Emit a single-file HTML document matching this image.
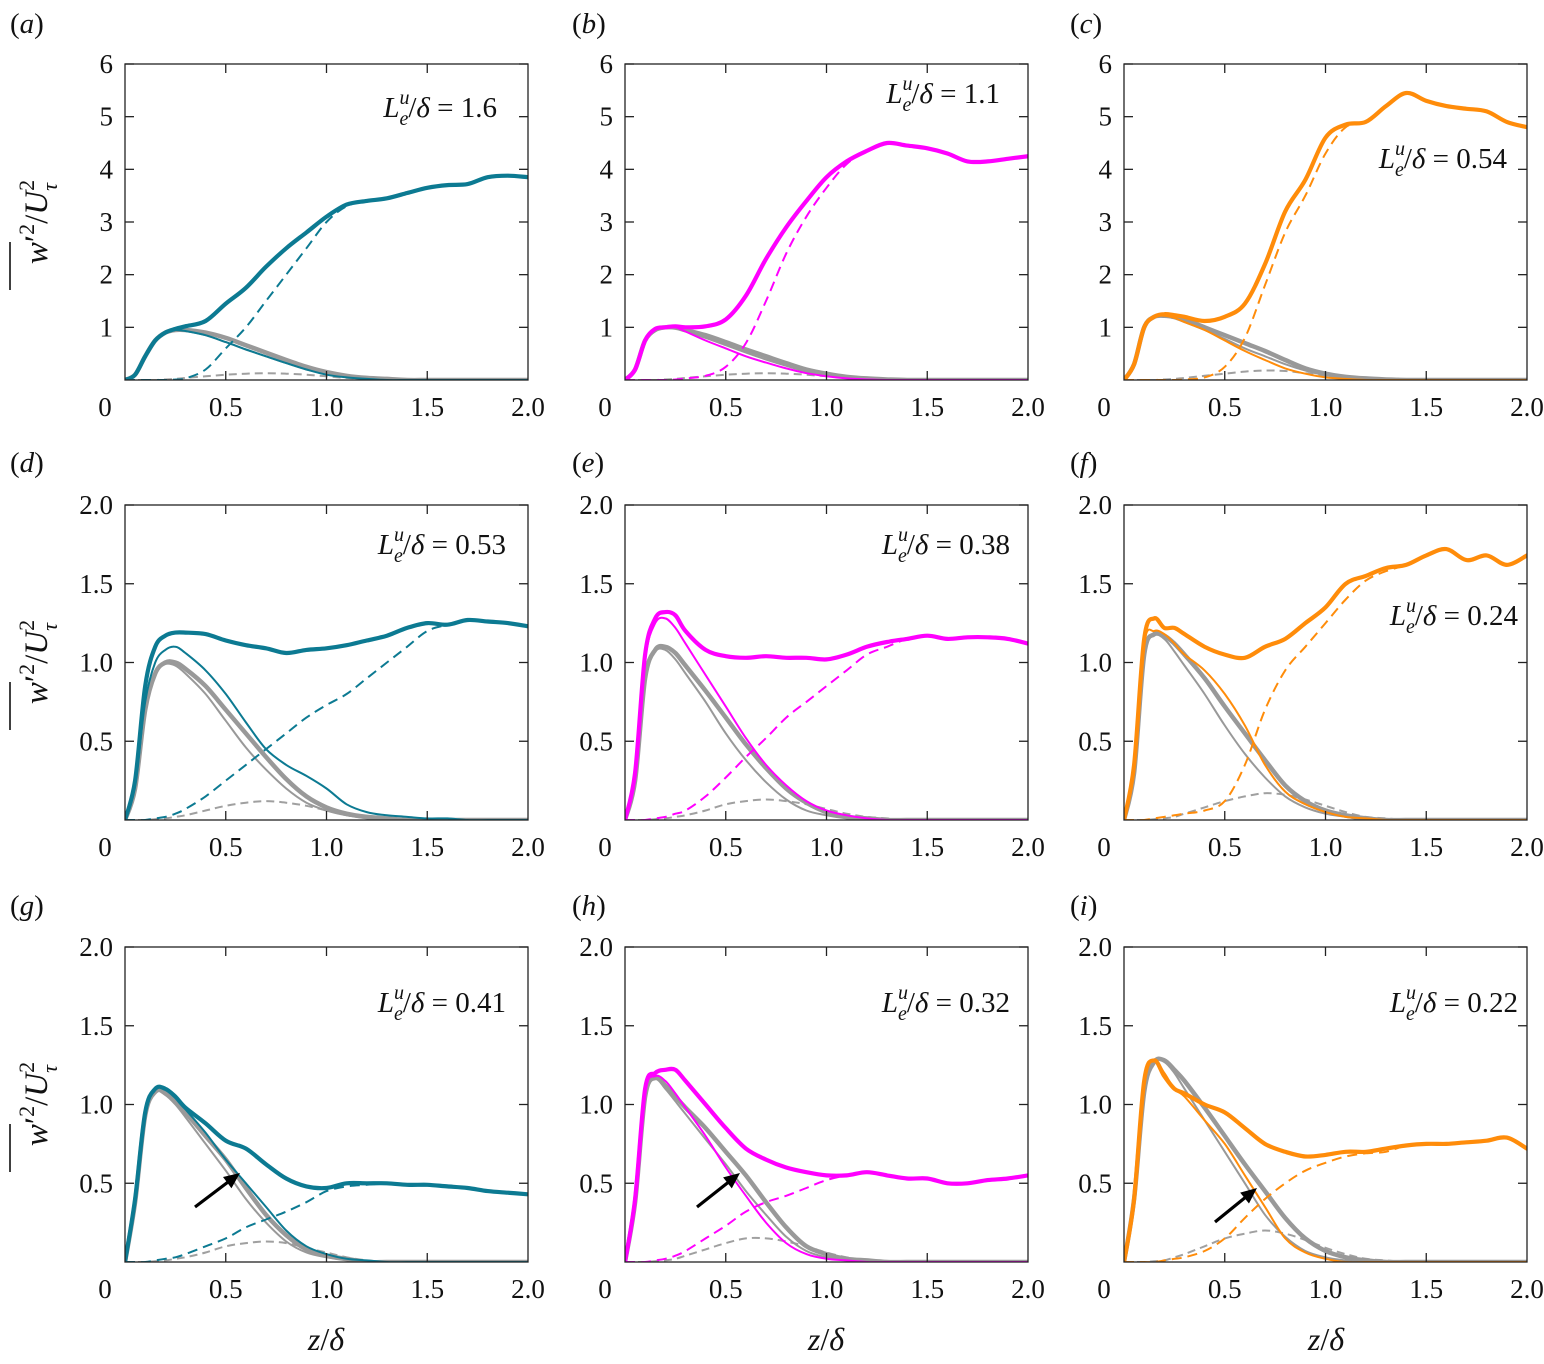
<!DOCTYPE html>
<html><head><meta charset="utf-8"><style>
html,body{margin:0;padding:0;background:#fff}
svg{display:block}
svg text{font-family:"Liberation Serif","DejaVu Serif",serif}
</style></head><body>
<svg id="fig" width="1544" height="1364" viewBox="0 0 1544 1364" xmlns="http://www.w3.org/2000/svg" font-family="Liberation Serif, DejaVu Serif, serif"></svg>
<script>
const zGrid=[0,.05,.1,.15,.2,.25,.3,.4,.5,.6,.7,.8,.9,1.0,1.1,1.2,1.3,1.4,1.5,1.6,1.7,1.8,1.9,2.0];
const xTicks=[0.5,1.0,1.5];
const xTickLabels=["0","0.5","1.0","1.5","2.0"];
const yTicksTop=[1,2,3,4,5,6];
const yTicksLow=[0.5,1.0,1.5,2.0];
const yLabelsLow=["0.5","1.0","1.5","2.0"];
const panelLetters=["a","b","c","d","e","f","g","h","i"];
const ratioLabels=["1.6","1.1","0.54","0.53","0.38","0.24","0.41","0.32","0.22"];

const aTot=[0,.1,.45,.75,.9,.97,1.02,1.12,1.45,1.75,2.15,2.5,2.8,3.1,3.33,3.4,3.45,3.55,3.65,3.7,3.72,3.85,3.88,3.85];
const aThin=[0,.1,.45,.75,.9,.95,.93,.85,.72,.58,.45,.32,.2,.1,.05,.02,0,0,0,0,0,0,0,0];
const aDash=[0,0,0,0,0,.01,.03,.2,.6,1.0,1.5,2.0,2.5,3.0,3.3,3.4,3.45,3.55,3.65,3.7,3.72,3.85,3.88,3.85];
const aGT=[0,.1,.45,.75,.9,.95,.95,.9,.8,.66,.52,.38,.25,.15,.08,.04,.02,0,0,0,0,0,0,0];
const aGt=[0,.1,.45,.75,.9,.94,.93,.85,.72,.58,.45,.32,.2,.12,.06,.03,.01,0,0,0,0,0,0,0];
const aGD=[0,0,0,0,.01,.02,.04,.07,.1,.12,.13,.12,.1,.07,.04,.02,.01,0,0,0,0,0,0,0];

const bTot=[0,.2,.75,.97,1.0,1.02,1.0,1.02,1.15,1.6,2.3,2.9,3.4,3.85,4.15,4.35,4.5,4.45,4.4,4.3,4.15,4.15,4.2,4.25];
const bThin=[0,.2,.75,.95,1.0,1.0,.92,.75,.6,.45,.33,.22,.13,.07,.03,.01,0,0,0,0,0,0,0,0];
const bDash=[0,0,0,0,0,.01,.03,.08,.25,.7,1.5,2.4,3.1,3.65,4.1,4.35,4.5,4.45,4.4,4.3,4.15,4.15,4.2,4.25];
const bGT=[0,.2,.75,.95,1.0,1.0,.95,.85,.72,.58,.45,.32,.2,.12,.06,.03,.01,0,0,0,0,0,0,0];
const bGt=[0,.2,.75,.94,.98,.97,.92,.8,.66,.52,.39,.27,.16,.09,.04,.02,0,0,0,0,0,0,0,0];
const bGD=[0,0,0,0,.01,.02,.04,.07,.1,.12,.13,.12,.1,.07,.04,.02,.01,0,0,0,0,0,0,0];

const cTot=[0,.3,1.0,1.2,1.25,1.23,1.2,1.12,1.2,1.45,2.2,3.2,3.8,4.6,4.85,4.9,5.2,5.45,5.3,5.2,5.15,5.1,4.9,4.8];
const cThin=[0,.3,1.0,1.2,1.22,1.18,1.1,.95,.75,.55,.38,.22,.12,.05,.02,0,0,0,0,0,0,0,0,0];
const cDash=[0,0,0,0,0,0,.01,.05,.25,.8,1.8,2.8,3.5,4.3,4.8,4.9,5.2,5.45,5.3,5.2,5.15,5.1,4.9,4.8];
const cGT=[0,.3,1.0,1.2,1.22,1.2,1.15,1.0,.85,.7,.55,.38,.22,.12,.06,.03,.01,0,0,0,0,0,0,0];
const cGt=[0,.3,1.0,1.19,1.2,1.17,1.1,.95,.78,.6,.45,.3,.18,.09,.04,.02,0,0,0,0,0,0,0,0];
const cGD=[0,0,0,0,.01,.02,.04,.08,.12,.16,.18,.17,.13,.08,.04,.02,.01,0,0,0,0,0,0,0];

const dTot=[0,.25,.85,1.1,1.17,1.19,1.19,1.18,1.14,1.11,1.09,1.06,1.08,1.09,1.11,1.14,1.17,1.22,1.25,1.24,1.27,1.26,1.25,1.23];
const dThin=[0,.22,.75,1.0,1.08,1.1,1.06,.95,.8,.62,.45,.35,.28,.2,.1,.05,.03,.02,.01,.01,0,0,0,0];
const dDash=[0,0,0,.01,.02,.04,.07,.15,.25,.35,.45,.55,.65,.73,.8,.9,1.0,1.1,1.2,1.24,1.27,1.26,1.25,1.23];
const dGT=[0,.2,.7,.93,1.0,1.0,.96,.85,.7,.55,.4,.26,.15,.08,.04,.02,.01,0,0,0,0,0,0,0];
const dGt=[0,.2,.7,.93,.99,.98,.93,.8,.63,.46,.32,.2,.11,.06,.03,.01,0,0,0,0,0,0,0,0];
const dGD=[0,0,0,.005,.01,.02,.03,.06,.09,.11,.12,.11,.09,.06,.03,.015,.005,0,0,0,0,0,0,0];

const eTot=[0,.3,1.05,1.28,1.32,1.3,1.2,1.08,1.04,1.03,1.04,1.03,1.03,1.02,1.05,1.1,1.13,1.15,1.17,1.15,1.16,1.16,1.15,1.12];
const eThin=[0,.3,1.02,1.25,1.28,1.22,1.12,.92,.72,.52,.35,.22,.12,.06,.03,.01,0,0,0,0,0,0,0,0];
const eDash=[0,0,0,.01,.02,.04,.06,.15,.27,.4,.52,.65,.75,.85,.95,1.05,1.1,1.15,1.17,1.15,1.16,1.16,1.15,1.12];
const eGT=[0,.25,.9,1.08,1.1,1.06,.98,.82,.65,.48,.33,.2,.11,.05,.02,.01,0,0,0,0,0,0,0,0];
const eGt=[0,.25,.9,1.07,1.08,1.02,.93,.75,.55,.38,.24,.13,.06,.03,.01,0,0,0,0,0,0,0,0,0];
const eGD=[0,0,0,.005,.01,.02,.03,.06,.1,.12,.13,.12,.1,.07,.04,.02,.01,0,0,0,0,0,0,0];

const fTot=[0,.35,1.15,1.28,1.22,1.22,1.18,1.1,1.05,1.03,1.1,1.15,1.25,1.35,1.5,1.55,1.6,1.62,1.68,1.72,1.65,1.68,1.62,1.68];
const fThin=[0,.35,1.12,1.2,1.18,1.12,1.05,.95,.8,.6,.35,.18,.1,.05,.02,.01,0,0,0,0,0,0,0,0];
const fDash=[0,0,0,.01,.02,.03,.04,.06,.12,.35,.7,.95,1.1,1.25,1.4,1.52,1.58,1.62,1.68,1.72,1.65,1.68,1.62,1.68];
const fGT=[0,.3,1.05,1.18,1.17,1.12,1.05,.9,.72,.55,.38,.22,.12,.06,.03,.01,0,0,0,0,0,0,0,0];
const fGt=[0,.3,1.05,1.17,1.15,1.07,.98,.8,.6,.42,.27,.15,.08,.04,.02,0,0,0,0,0,0,0,0,0];
const fGD=[0,0,0,.005,.01,.02,.04,.08,.12,.15,.17,.16,.13,.09,.05,.02,.01,0,0,0,0,0,0,0];

const gTot=[0,.4,.95,1.1,1.1,1.05,.98,.88,.77,.72,.62,.53,.48,.47,.5,.5,.5,.49,.49,.48,.47,.45,.44,.43];
const gThin=[0,.4,.95,1.1,1.1,1.05,.97,.82,.65,.5,.35,.2,.1,.05,.02,.01,0,0,0,0,0,0,0,0];
const gDash=[0,0,0,.01,.02,.03,.05,.1,.15,.22,.27,.32,.38,.45,.48,.49,.5,.49,.49,.48,.47,.45,.44,.43];
const gGT=[0,.38,.93,1.08,1.08,1.02,.95,.8,.65,.47,.3,.17,.08,.04,.02,0,0,0,0,0,0,0,0,0];
const gGt=[0,.38,.93,1.08,1.06,1.0,.92,.75,.58,.4,.25,.13,.06,.03,.01,0,0,0,0,0,0,0,0,0];
const gGD=[0,0,0,.005,.01,.02,.03,.06,.1,.12,.13,.12,.09,.06,.03,.01,0,0,0,0,0,0,0,0];

const hTot=[0,.4,1.1,1.2,1.22,1.22,1.15,1.0,.85,.72,.65,.6,.57,.55,.55,.57,.55,.53,.53,.5,.5,.52,.53,.55];
const hThin=[0,.4,1.08,1.18,1.15,1.07,.98,.8,.6,.42,.25,.12,.05,.02,.01,0,0,0,0,0,0,0,0,0];
const hDash=[0,0,0,.01,.02,.04,.07,.15,.23,.32,.38,.42,.47,.52,.55,.57,.55,.53,.53,.5,.5,.52,.53,.55];
const hGT=[0,.38,1.05,1.17,1.12,1.05,.98,.85,.7,.55,.38,.22,.1,.05,.02,.01,0,0,0,0,0,0,0,0];
const hGt=[0,.38,1.05,1.16,1.1,1.02,.94,.78,.62,.45,.3,.16,.07,.03,.01,0,0,0,0,0,0,0,0,0];
const hGD=[0,0,0,.005,.01,.02,.04,.08,.12,.15,.15,.13,.1,.06,.03,.01,0,0,0,0,0,0,0,0];

const iTot=[0,.4,1.15,1.28,1.18,1.1,1.07,1.0,.95,.85,.75,.7,.67,.68,.7,.7,.72,.74,.75,.75,.76,.77,.79,.72];
const iThin=[0,.4,1.15,1.28,1.2,1.1,1.05,.9,.75,.55,.35,.15,.06,.02,0,0,0,0,0,0,0,0,0,0];
const iDash=[0,0,0,0,.01,.02,.03,.07,.15,.28,.4,.5,.58,.63,.67,.69,.7,.74,.75,.75,.76,.77,.79,.72];
const iGT=[0,.4,1.08,1.27,1.28,1.22,1.15,.98,.8,.62,.45,.28,.15,.07,.03,.01,0,0,0,0,0,0,0,0];
const iGt=[0,.4,1.08,1.27,1.27,1.2,1.1,.9,.7,.5,.3,.16,.07,.03,.01,0,0,0,0,0,0,0,0,0];
const iGD=[0,0,0,.005,.01,.03,.05,.1,.15,.18,.2,.18,.14,.09,.05,.02,.01,0,0,0,0,0,0,0];

const series=[
 [aTot,aThin,aDash,aGT,aGt,aGD],[bTot,bThin,bDash,bGT,bGt,bGD],[cTot,cThin,cDash,cGT,cGt,cGD],
 [dTot,dThin,dDash,dGT,dGt,dGD],[eTot,eThin,eDash,eGT,eGt,eGD],[fTot,fThin,fDash,fGT,fGt,fGD],
 [gTot,gThin,gDash,gGT,gGt,gGD],[hTot,hThin,hDash,hGT,hGt,hGD],[iTot,iThin,iDash,iGT,iGt,iGD]];

const NS="http://www.w3.org/2000/svg";
const svg=document.getElementById('fig');
const FONT="Liberation Serif, DejaVu Serif, serif";
function mk(tag,attrs,parent){const e=document.createElementNS(NS,tag);for(const k in attrs)e.setAttribute(k,attrs[k]);if(tag==='text')e.setAttribute('font-family',FONT);(parent||svg).appendChild(e);return e;}
const colors=["#0c7a92","#ff00ff","#ff8c0a"];
const colL=[125,625,1124], W=403;
const rowT=[64,505,947], rowB=[380,820,1262];
const letterX=[10,572,1070];
const letterY=[33,472,915];
const annPos=[[497,117],[1000,103],[1507,168],[506,554],[1010,554],[1518,625],[506,1012],[1010,1012],[1518,1012]];
const arrows=[null,null,null,null,null,null,[195,1207,240,1173],[697,1207,740,1173],[1215,1222,1257,1188]];

function smoothPath(pts){
  let d="M"+pts[0][0].toFixed(1)+","+pts[0][1].toFixed(1);
  for(let i=0;i<pts.length-1;i++){
    const p0=pts[Math.max(0,i-1)],p1=pts[i],p2=pts[i+1],p3=pts[Math.min(pts.length-1,i+2)];
    const c1=[p1[0]+(p2[0]-p0[0])/6,p1[1]+(p2[1]-p0[1])/6];
    const c2=[p2[0]-(p3[0]-p1[0])/6,p2[1]-(p3[1]-p1[1])/6];
    d+=" C"+c1[0].toFixed(1)+","+c1[1].toFixed(1)+" "+c2[0].toFixed(1)+","+c2[1].toFixed(1)+" "+p2[0].toFixed(1)+","+p2[1].toFixed(1);
  }
  return d;
}

for(let p=0;p<9;p++){
  const r=Math.floor(p/3),c=p%3;
  const L=colL[c],T=rowT[r],B=rowB[r],R=L+W;
  const ymax=r===0?6:2;
  const xs=v=>L+v/2*W, ys=v=>B-v/ymax*(B-T);
  const g=mk('g',{});
  
  
  const clipId='clip'+p;
  const cp=mk('clipPath',{id:clipId},g); mk('rect',{x:L,y:T-2,width:W,height:B-T+2},cp);
  const col=colors[c];
  const specs=[[5,'#a0a0a0',2,'8,5','gray-dashed-curve'],[4,'#999',2,null,'gray-thin-curve'],[3,'#999',4.5,null,'gray-thick-curve'],
    [2,col,2,'10,6','dashed-curve'],[1,col,2,null,'thin-curve'],[0,col,4.2,null,'total-curve']];
  const plot=mk('g',{'clip-path':'url(#'+clipId+')'},g);
  for(const s of specs){
    const arr=series[p][s[0]];
    const pts=zGrid.map((z,i)=>[xs(z),ys(arr[i])]);
    const a={d:smoothPath(pts),fill:'none',stroke:s[1],'stroke-width':s[2],'stroke-linejoin':'round','stroke-linecap':'round'};
    if(s[3]){a['stroke-dasharray']=s[3];a['stroke-linecap']='butt';}
    const path=mk('path',a,plot);
    
    
  }
  const ap=annPos[p];
  mk('rect',{x:ap[0]-165,y:ap[1]-32,width:171,height:44,fill:'#fff'},g);
  const t=mk('text',{x:ap[0],y:ap[1],'text-anchor':'end','font-size':29,fill:'#111'},g);
  
  
  t.innerHTML='<tspan font-style="italic">L</tspan><tspan font-style="italic" font-size="20" dy="-13">u</tspan><tspan font-style="italic" font-size="20" dx="-10" dy="21">e</tspan><tspan dy="-8">/</tspan><tspan font-style="italic">δ</tspan><tspan> = '+ratioLabels[p]+'</tspan>';
  const fr=mk('rect',{x:L,y:T,width:W,height:B-T,fill:'none',stroke:'#222','stroke-width':1.3},g);
  
  
  for(const v of xTicks){
    mk('line',{x1:xs(v),x2:xs(v),y1:B,y2:B-9,stroke:'#222','stroke-width':1.3},g);
    mk('line',{x1:xs(v),x2:xs(v),y1:T,y2:T+9,stroke:'#222','stroke-width':1.3},g);
  }
  [0,0.5,1.0,1.5,2.0].forEach((v,i)=>{
    const tx=mk('text',{x:i===0?L-20:xs(v),y:B+36,'text-anchor':'middle','font-size':27,fill:'#111'},g);
    
    
    tx.textContent=xTickLabels[i];
  });
  const yt=r===0?yTicksTop:yTicksLow;
  yt.forEach((v,i)=>{
    mk('line',{x1:L,x2:L+9,y1:ys(v),y2:ys(v),stroke:'#222','stroke-width':1.3},g);
    mk('line',{x1:R,x2:R-9,y1:ys(v),y2:ys(v),stroke:'#222','stroke-width':1.3},g);
    const ty=mk('text',{x:L-12,y:ys(v)+9,'text-anchor':'end','font-size':27,fill:'#111'},g);
    
    
    ty.textContent=r===0?String(v):yLabelsLow[i];
  });
  const pl=mk('text',{x:letterX[c],y:letterY[r],'font-size':29,fill:'#111'},g);
  
  
  pl.innerHTML='(<tspan font-style="italic">'+panelLetters[p]+'</tspan>)';
  if(arrows[p]){
    const [x1,y1,x2,y2]=arrows[p];
    const ang=Math.atan2(y2-y1,x2-x1);
    const al=mk('line',{x1:x1,y1:y1,x2:x2-10*Math.cos(ang),y2:y2-10*Math.sin(ang),stroke:'#000','stroke-width':3.2},g);
    
    
    const bx=x2-16*Math.cos(ang),by=y2-16*Math.sin(ang);
    const px=-Math.sin(ang)*7,py=Math.cos(ang)*7;
    const ah=mk('polygon',{points:x2+','+y2+' '+(bx+px)+','+(by+py)+' '+(bx-px)+','+(by-py),fill:'#000'},g);
    
    
  }
}
[222,662,1104].forEach(cy=>{
  const t=mk('text',{x:0,y:0,transform:'translate(47,'+cy+') rotate(-90)','text-anchor':'middle','font-size':33,fill:'#111'});
  
  
  t.innerHTML='<tspan font-style="italic">w</tspan><tspan>′</tspan><tspan font-size="22" dy="-13">2</tspan><tspan dy="13">/</tspan><tspan font-style="italic">U</tspan><tspan font-size="22" dy="-13">2</tspan><tspan font-size="22" font-style="italic" dx="-11" dy="23">τ</tspan>';
  const ol=mk('line',{x1:10,x2:10,y1:cy+20,y2:cy+68,stroke:'#111','stroke-width':1.6});
  
  
});
[326,826,1326].forEach(cx=>{
  const t=mk('text',{x:cx,y:1350,'text-anchor':'middle','font-size':32,fill:'#111'});
  
  
  t.innerHTML='<tspan font-style="italic">z</tspan>/<tspan font-style="italic">δ</tspan>';
});
</script>
</body></html>
